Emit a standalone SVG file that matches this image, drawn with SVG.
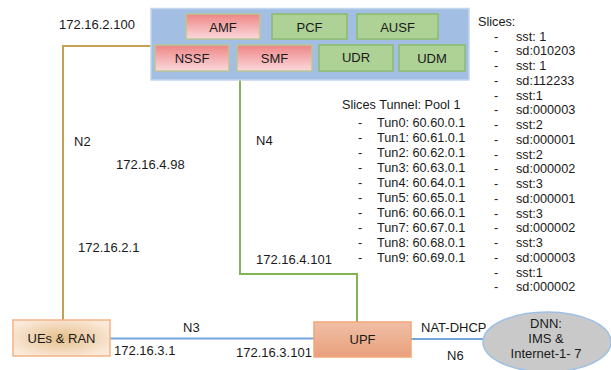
<svg xmlns="http://www.w3.org/2000/svg" width="611" height="370" viewBox="0 0 611 370">
<defs>
<linearGradient id="gRed" x1="0" y1="0" x2="0" y2="1">
<stop offset="0" stop-color="#ee8585"/>
<stop offset="1" stop-color="#fad9dc"/>
</linearGradient>
<linearGradient id="gUpf" x1="0" y1="0" x2="0" y2="1">
<stop offset="0" stop-color="#f0bfa6"/>
<stop offset="1" stop-color="#e9a07c"/>
</linearGradient>
<radialGradient id="gRan" cx="0.5" cy="0.5" r="0.6">
<stop offset="0" stop-color="#e6c08c"/>
<stop offset="1" stop-color="#fbeadc"/>
</radialGradient>
</defs>
<style>
text{font-family:"Liberation Sans",Arial,sans-serif;font-size:13px;fill:#1a1a1a}
.c{text-anchor:middle}
.red{fill:url(#gRed);stroke:#b8c896;stroke-width:1.5}
.grn{fill:#aed196;stroke:#8cbb6c;stroke-width:1.5}
.ln{fill:none;stroke-width:2}
.l{font-size:12.7px}
</style>
<g id="connectors">
<polyline class="ln" points="151,46 63,46 63,320" stroke="#c3a052"/>
<polyline class="ln" points="240,80 240,274 357,274 357,322" stroke="#80b456"/>
<line class="ln" x1="110" y1="338.5" x2="314" y2="338.5" stroke="#74a6dc"/>
<line class="ln" x1="411" y1="339" x2="484" y2="339" stroke="#74a6dc"/>
</g>
<g id="core">
<rect x="151" y="8.5" width="318" height="71.5" fill="#a2bfe3" stroke="#c4d6ef" stroke-width="1.5"/>
</g>
<g id="amf"><rect class="red" x="186" y="14" width="74" height="25"/><text class="c" x="223" y="31.5">AMF</text></g>
<g id="pcf"><rect class="grn" x="272" y="14" width="75" height="25"/><text class="c" x="309.5" y="31.5">PCF</text></g>
<g id="ausf"><rect class="grn" x="357" y="14" width="81" height="25"/><text class="c" x="397.5" y="31.5">AUSF</text></g>
<g id="nssf"><rect class="red" x="155" y="45" width="74" height="26"/><text class="c" x="192" y="62.5">NSSF</text></g>
<g id="smf"><rect class="red" x="237" y="45" width="75" height="26"/><text class="c" x="274.5" y="62.5">SMF</text></g>
<g id="udr"><rect class="grn" x="319" y="45" width="74" height="26"/><text class="c" x="356" y="62">UDR</text></g>
<g id="udm"><rect class="grn" x="399" y="45" width="66" height="26"/><text class="c" x="432" y="62.5">UDM</text></g>
<g id="ran"><rect x="13" y="320" width="97" height="36" fill="url(#gRan)" stroke="#f3b486" stroke-width="1.5"/><text class="c" x="61.5" y="343">UEs &amp; RAN</text></g>
<g id="upf"><rect x="314" y="322" width="97" height="35" fill="url(#gUpf)" stroke="#f2a678" stroke-width="1.5"/><text class="c" x="362.5" y="344">UPF</text></g>
<g id="dnn"><ellipse cx="547" cy="342" rx="64" ry="30" fill="#c9c9c9" stroke="#9dc0e4" stroke-width="1.5"/>
<text class="c" x="546" y="328">DNN:</text><text class="c" x="546" y="343">IMS &amp;</text><text class="c" x="546" y="358">Internet-1- 7</text></g>
<g id="labels">
<text x="59" y="29">172.16.2.100</text>
<text x="74" y="146">N2</text>
<text x="116" y="169">172.16.4.98</text>
<text x="78" y="252">172.16.2.1</text>
<text x="256" y="145">N4</text>
<text x="256" y="264">172.16.4.101</text>
<text x="183" y="332">N3</text>
<text x="114" y="355">172.16.3.1</text>
<text x="236" y="357">172.16.3.101</text>
<text x="421" y="332">NAT-DHCP</text>
<text x="447" y="360">N6</text>
</g>
<g id="tunnels" class="l">
<text class="l" x="342" y="108.5">Slices Tunnel: Pool 1</text>
<g class="l">
<text class="l" x="358" y="126.5">-</text><text class="l" x="377" y="126.5">Tun0: 60.60.0.1</text>
<text class="l" x="358" y="141.5">-</text><text class="l" x="377" y="141.5">Tun1: 60.61.0.1</text>
<text class="l" x="358" y="156.5">-</text><text class="l" x="377" y="156.5">Tun2: 60.62.0.1</text>
<text class="l" x="358" y="171.5">-</text><text class="l" x="377" y="171.5">Tun3: 60.63.0.1</text>
<text class="l" x="358" y="186.5">-</text><text class="l" x="377" y="186.5">Tun4: 60.64.0.1</text>
<text class="l" x="358" y="201.5">-</text><text class="l" x="377" y="201.5">Tun5: 60.65.0.1</text>
<text class="l" x="358" y="216.5">-</text><text class="l" x="377" y="216.5">Tun6: 60.66.0.1</text>
<text class="l" x="358" y="231.5">-</text><text class="l" x="377" y="231.5">Tun7: 60.67.0.1</text>
<text class="l" x="358" y="246.5">-</text><text class="l" x="377" y="246.5">Tun8: 60.68.0.1</text>
<text class="l" x="358" y="261.5">-</text><text class="l" x="377" y="261.5">Tun9: 60.69.0.1</text>
</g>
</g>
<g id="slices">
<text class="l" x="478" y="25.5">Slices:</text>
<text class="l" x="494" y="40.5">-</text><text class="l" x="516" y="40.5">sst: 1</text>
<text class="l" x="494" y="55.3">-</text><text class="l" x="516" y="55.3">sd:010203</text>
<text class="l" x="494" y="70">-</text><text class="l" x="516" y="70">sst: 1</text>
<text class="l" x="494" y="84.8">-</text><text class="l" x="516" y="84.8">sd:112233</text>
<text class="l" x="494" y="99.5">-</text><text class="l" x="516" y="99.5">sst:1</text>
<text class="l" x="494" y="114.3">-</text><text class="l" x="516" y="114.3">sd:000003</text>
<text class="l" x="494" y="129">-</text><text class="l" x="516" y="129">sst:2</text>
<text class="l" x="494" y="143.8">-</text><text class="l" x="516" y="143.8">sd:000001</text>
<text class="l" x="494" y="158.6">-</text><text class="l" x="516" y="158.6">sst:2</text>
<text class="l" x="494" y="173.3">-</text><text class="l" x="516" y="173.3">sd:000002</text>
<text class="l" x="494" y="188.1">-</text><text class="l" x="516" y="188.1">sst:3</text>
<text class="l" x="494" y="202.8">-</text><text class="l" x="516" y="202.8">sd:000001</text>
<text class="l" x="494" y="217.6">-</text><text class="l" x="516" y="217.6">sst:3</text>
<text class="l" x="494" y="232.4">-</text><text class="l" x="516" y="232.4">sd:000002</text>
<text class="l" x="494" y="247.1">-</text><text class="l" x="516" y="247.1">sst:3</text>
<text class="l" x="494" y="261.9">-</text><text class="l" x="516" y="261.9">sd:000003</text>
<text class="l" x="494" y="276.6">-</text><text class="l" x="516" y="276.6">sst:1</text>
<text class="l" x="494" y="291.4">-</text><text class="l" x="516" y="291.4">sd:000002</text>
</g>
</svg>
